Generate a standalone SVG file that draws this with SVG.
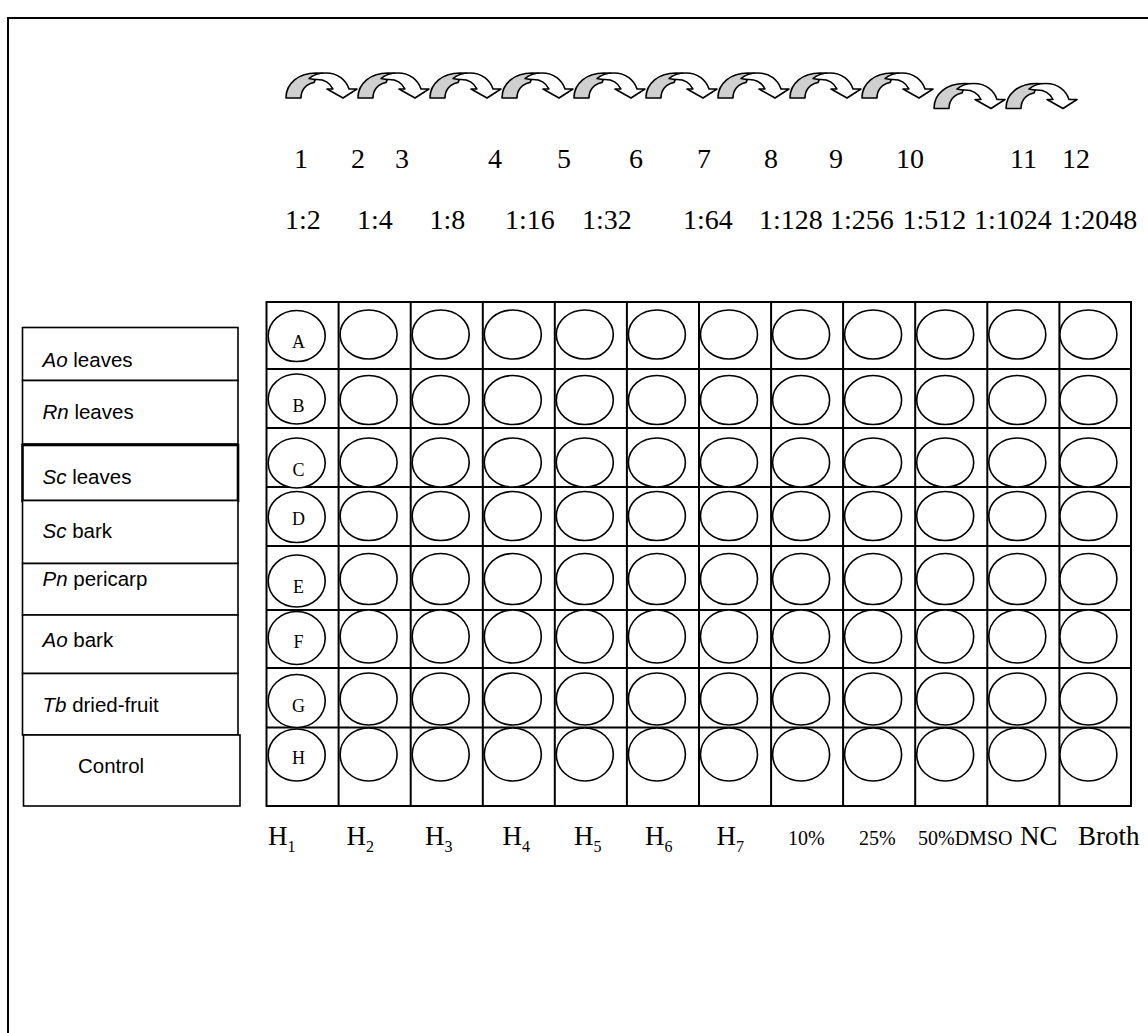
<svg xmlns="http://www.w3.org/2000/svg" width="1148" height="1033" viewBox="0 0 1148 1033">
<defs>
<style>
.frame{fill:none;stroke:#000;stroke-width:2}
.grid{fill:none;stroke:#000;stroke-width:2}
.well{fill:#fff;stroke:#000;stroke-width:1.6}
.box{fill:#fff;stroke:#000;stroke-width:1.6}
.lbl{font-family:"Liberation Sans",Arial,sans-serif;font-size:20.5px;fill:#000}
.ser{font-family:"Liberation Serif","Times New Roman",serif;fill:#000}
.num{font-size:28px}
.row{font-size:18px;text-anchor:middle}
.hl{font-size:27px}
.sm{font-size:20px}
.gray{fill:#cfcfcf;stroke:#000;stroke-width:1.6;stroke-linejoin:round}
.white{fill:#fff;stroke:#000;stroke-width:1.6;stroke-linejoin:round}
</style>
<g id="arr">
<path class="gray" d="M0,25 C0,10 13,0 30,0 L37,0.3 C32,3 29,6 28,9.5 C20,11 15,17 15,25 Z"/>
<path class="white" d="M23,5.5 C28,1 34,0 40,0 C52,0 60,7 63,16 L71,16 L57,25 L41,16 L47,16 C44,10 38,6.5 31,6.5 C28,6.5 25.5,6.2 23,5.5 Z"/>
</g>
</defs>
<rect width="1148" height="1033" fill="#fff"/>
<path class="frame" d="M8,1033 V18 H1148"/>

<g id="connectors">
<use href="#arr" x="286" y="73"/>
<use href="#arr" x="358" y="73"/>
<use href="#arr" x="430" y="73"/>
<use href="#arr" x="502" y="73"/>
<use href="#arr" x="574" y="73"/>
<use href="#arr" x="646" y="73"/>
<use href="#arr" x="718" y="73"/>
<use href="#arr" x="790" y="73"/>
<use href="#arr" x="862" y="73"/>
<use href="#arr" x="934" y="83.5"/>
<use href="#arr" x="1006" y="83.5"/>
</g>

<g id="col-numbers" class="ser num">
<text x="294" y="168">1</text>
<text x="351" y="168">2</text>
<text x="395" y="168">3</text>
<text x="488" y="168">4</text>
<text x="557" y="168">5</text>
<text x="629" y="168">6</text>
<text x="697" y="168">7</text>
<text x="764" y="168">8</text>
<text x="829" y="168">9</text>
<text x="896" y="168">10</text>
<text x="1010" y="168">11</text>
<text x="1062" y="168">12</text>
</g>

<g id="dilutions" class="ser num">
<text x="285" y="229">1:2</text>
<text x="357" y="229">1:4</text>
<text x="429.5" y="229">1:8</text>
<text x="505" y="229">1:16</text>
<text x="582" y="229">1:32</text>
<text x="683" y="229">1:64</text>
<text x="759" y="229">1:128</text>
<text x="830" y="229">1:256</text>
<text x="902.5" y="229">1:512</text>
<text x="974" y="229">1:1024</text>
<text x="1059.5" y="229">1:2048</text>
</g>

<g id="samples">
<g id="s-ao-leaves"><rect class="box" x="22.5" y="327.5" width="215.5" height="53"/><text class="lbl" x="42.5" y="367"><tspan font-style="italic">Ao</tspan> leaves</text></g>
<g id="s-rn-leaves"><rect class="box" x="22.5" y="380.5" width="215.5" height="63.5"/><text class="lbl" x="42.5" y="419"><tspan font-style="italic">Rn</tspan> leaves</text></g>
<g id="s-sc-leaves"><rect class="box" x="22.5" y="445" width="215.5" height="56" style="stroke-width:2.6"/><text class="lbl" x="42.5" y="484"><tspan font-style="italic">Sc</tspan> leaves</text></g>
<g id="s-sc-bark"><rect class="box" x="22.5" y="500.5" width="215.5" height="63"/><text class="lbl" x="42.5" y="538"><tspan font-style="italic">Sc</tspan> bark</text></g>
<g id="s-pn-pericarp"><rect class="box" x="22.5" y="563.5" width="215.5" height="51.5"/><text class="lbl" x="42.5" y="586"><tspan font-style="italic">Pn</tspan> pericarp</text></g>
<g id="s-ao-bark"><rect class="box" x="22.5" y="615" width="215.5" height="58.5"/><text class="lbl" x="42.5" y="646.5"><tspan font-style="italic">Ao</tspan> bark</text></g>
<g id="s-tb-fruit"><rect class="box" x="22.5" y="673.5" width="215.5" height="61.5"/><text class="lbl" x="42.5" y="712"><tspan font-style="italic">Tb</tspan> dried-fruit</text></g>
<g id="s-control"><rect class="box" x="23.5" y="735" width="216.5" height="71"/><text class="lbl" x="78" y="772.5">Control</text></g>
</g>

<g id="plate">
<rect class="grid" x="266.5" y="302" width="864.5" height="504"/>
<path class="grid" d="M338.6,302V806M410.7,302V806M482.8,302V806M554.8,302V806M626.9,302V806M699,302V806M771.1,302V806M843.1,302V806M915.2,302V806M987.3,302V806M1059.4,302V806M266.5,369H1131M266.5,428H1131M266.5,487H1131M266.5,546H1131M266.5,610H1131M266.5,668H1131M266.5,727.5H1131"/>
</g>

<g id="wells">
<g id="row-A"><ellipse class="well" cx="296.7" cy="336" rx="28.5" ry="25.5"/><ellipse class="well" cx="368.6" cy="334.5" rx="28.5" ry="24.5"/><ellipse class="well" cx="440.7" cy="334.5" rx="28.5" ry="24.5"/><ellipse class="well" cx="512.8" cy="334.5" rx="28.5" ry="24.5"/><ellipse class="well" cx="584.8" cy="334.5" rx="28.5" ry="24.5"/><ellipse class="well" cx="656.9" cy="334.5" rx="28.5" ry="24.5"/><ellipse class="well" cx="729" cy="334.5" rx="28.5" ry="24.5"/><ellipse class="well" cx="801.1" cy="334.5" rx="28.5" ry="24.5"/><ellipse class="well" cx="873.1" cy="334.5" rx="28.5" ry="24.5"/><ellipse class="well" cx="945.2" cy="334.5" rx="28.5" ry="24.5"/><ellipse class="well" cx="1017.3" cy="334.5" rx="28.5" ry="24.5"/><ellipse class="well" cx="1088.4" cy="334.5" rx="28.5" ry="24.5"/></g>
<g id="row-B"><ellipse class="well" cx="296.7" cy="399" rx="28.5" ry="25"/><ellipse class="well" cx="368.6" cy="400" rx="28.5" ry="24.5"/><ellipse class="well" cx="440.7" cy="400" rx="28.5" ry="24.5"/><ellipse class="well" cx="512.8" cy="400" rx="28.5" ry="24.5"/><ellipse class="well" cx="584.8" cy="400" rx="28.5" ry="24.5"/><ellipse class="well" cx="656.9" cy="400" rx="28.5" ry="24.5"/><ellipse class="well" cx="729" cy="400" rx="28.5" ry="24.5"/><ellipse class="well" cx="801.1" cy="400" rx="28.5" ry="24.5"/><ellipse class="well" cx="873.1" cy="400" rx="28.5" ry="24.5"/><ellipse class="well" cx="945.2" cy="400" rx="28.5" ry="24.5"/><ellipse class="well" cx="1017.3" cy="400" rx="28.5" ry="24.5"/><ellipse class="well" cx="1088.4" cy="400" rx="28.5" ry="24.5"/></g>
<g id="row-C"><ellipse class="well" cx="296.7" cy="463" rx="28.5" ry="25"/><ellipse class="well" cx="368.6" cy="462.5" rx="28.5" ry="24.5"/><ellipse class="well" cx="440.7" cy="462.5" rx="28.5" ry="24.5"/><ellipse class="well" cx="512.8" cy="462.5" rx="28.5" ry="24.5"/><ellipse class="well" cx="584.8" cy="462.5" rx="28.5" ry="24.5"/><ellipse class="well" cx="656.9" cy="462.5" rx="28.5" ry="24.5"/><ellipse class="well" cx="729" cy="462.5" rx="28.5" ry="24.5"/><ellipse class="well" cx="801.1" cy="462.5" rx="28.5" ry="24.5"/><ellipse class="well" cx="873.1" cy="462.5" rx="28.5" ry="24.5"/><ellipse class="well" cx="945.2" cy="462.5" rx="28.5" ry="24.5"/><ellipse class="well" cx="1017.3" cy="462.5" rx="28.5" ry="24.5"/><ellipse class="well" cx="1088.4" cy="462.5" rx="28.5" ry="24.5"/></g>
<g id="row-D"><ellipse class="well" cx="296.7" cy="517" rx="28.5" ry="25.5"/><ellipse class="well" cx="368.6" cy="516" rx="28.5" ry="24.5"/><ellipse class="well" cx="440.7" cy="516" rx="28.5" ry="24.5"/><ellipse class="well" cx="512.8" cy="516" rx="28.5" ry="24.5"/><ellipse class="well" cx="584.8" cy="516" rx="28.5" ry="24.5"/><ellipse class="well" cx="656.9" cy="516" rx="28.5" ry="24.5"/><ellipse class="well" cx="729" cy="516" rx="28.5" ry="24.5"/><ellipse class="well" cx="801.1" cy="516" rx="28.5" ry="24.5"/><ellipse class="well" cx="873.1" cy="516" rx="28.5" ry="24.5"/><ellipse class="well" cx="945.2" cy="516" rx="28.5" ry="24.5"/><ellipse class="well" cx="1017.3" cy="516" rx="28.5" ry="24.5"/><ellipse class="well" cx="1088.4" cy="516" rx="28.5" ry="24.5"/></g>
<g id="row-E"><ellipse class="well" cx="296.7" cy="581" rx="28.5" ry="26"/><ellipse class="well" cx="368.6" cy="579" rx="28.5" ry="25.5"/><ellipse class="well" cx="440.7" cy="579" rx="28.5" ry="25.5"/><ellipse class="well" cx="512.8" cy="579" rx="28.5" ry="25.5"/><ellipse class="well" cx="584.8" cy="579" rx="28.5" ry="25.5"/><ellipse class="well" cx="656.9" cy="579" rx="28.5" ry="25.5"/><ellipse class="well" cx="729" cy="579" rx="28.5" ry="25.5"/><ellipse class="well" cx="801.1" cy="579" rx="28.5" ry="25.5"/><ellipse class="well" cx="873.1" cy="579" rx="28.5" ry="25.5"/><ellipse class="well" cx="945.2" cy="579" rx="28.5" ry="25.5"/><ellipse class="well" cx="1017.3" cy="579" rx="28.5" ry="25.5"/><ellipse class="well" cx="1088.4" cy="579" rx="28.5" ry="25.5"/></g>
<g id="row-F"><ellipse class="well" cx="296.7" cy="638" rx="28.5" ry="26.5"/><ellipse class="well" cx="368.6" cy="636.5" rx="28.5" ry="26.5"/><ellipse class="well" cx="440.7" cy="636.5" rx="28.5" ry="26.5"/><ellipse class="well" cx="512.8" cy="636.5" rx="28.5" ry="26.5"/><ellipse class="well" cx="584.8" cy="636.5" rx="28.5" ry="26.5"/><ellipse class="well" cx="656.9" cy="636.5" rx="28.5" ry="26.5"/><ellipse class="well" cx="729" cy="636.5" rx="28.5" ry="26.5"/><ellipse class="well" cx="801.1" cy="636.5" rx="28.5" ry="26.5"/><ellipse class="well" cx="873.1" cy="636.5" rx="28.5" ry="26.5"/><ellipse class="well" cx="945.2" cy="636.5" rx="28.5" ry="26.5"/><ellipse class="well" cx="1017.3" cy="636.5" rx="28.5" ry="26.5"/><ellipse class="well" cx="1088.4" cy="636.5" rx="28.5" ry="26.5"/></g>
<g id="row-G"><ellipse class="well" cx="296.7" cy="701" rx="28.5" ry="26.5"/><ellipse class="well" cx="368.6" cy="699" rx="28.5" ry="26"/><ellipse class="well" cx="440.7" cy="699" rx="28.5" ry="26"/><ellipse class="well" cx="512.8" cy="699" rx="28.5" ry="26"/><ellipse class="well" cx="584.8" cy="699" rx="28.5" ry="26"/><ellipse class="well" cx="656.9" cy="699" rx="28.5" ry="26"/><ellipse class="well" cx="729" cy="699" rx="28.5" ry="26"/><ellipse class="well" cx="801.1" cy="699" rx="28.5" ry="26"/><ellipse class="well" cx="873.1" cy="699" rx="28.5" ry="26"/><ellipse class="well" cx="945.2" cy="699" rx="28.5" ry="26"/><ellipse class="well" cx="1017.3" cy="699" rx="28.5" ry="26"/><ellipse class="well" cx="1088.4" cy="699" rx="28.5" ry="26"/></g>
<g id="row-H"><ellipse class="well" cx="296.7" cy="755" rx="28.5" ry="26"/><ellipse class="well" cx="368.6" cy="754.5" rx="28.5" ry="26.5"/><ellipse class="well" cx="440.7" cy="754.5" rx="28.5" ry="26.5"/><ellipse class="well" cx="512.8" cy="754.5" rx="28.5" ry="26.5"/><ellipse class="well" cx="584.8" cy="754.5" rx="28.5" ry="26.5"/><ellipse class="well" cx="656.9" cy="754.5" rx="28.5" ry="26.5"/><ellipse class="well" cx="729" cy="754.5" rx="28.5" ry="26.5"/><ellipse class="well" cx="801.1" cy="754.5" rx="28.5" ry="26.5"/><ellipse class="well" cx="873.1" cy="754.5" rx="28.5" ry="26.5"/><ellipse class="well" cx="945.2" cy="754.5" rx="28.5" ry="26.5"/><ellipse class="well" cx="1017.3" cy="754.5" rx="28.5" ry="26.5"/><ellipse class="well" cx="1088.4" cy="754.5" rx="28.5" ry="26.5"/></g>
</g>

<g id="row-letters" class="ser row">
<text x="298.5" y="347.5">A</text>
<text x="298.5" y="412">B</text>
<text x="298.5" y="476">C</text>
<text x="298.5" y="525">D</text>
<text x="298.5" y="592.5">E</text>
<text x="298.5" y="647.5">F</text>
<text x="298.5" y="711.5">G</text>
<text x="298.5" y="763.5">H</text>
</g>

<g id="col-labels" class="ser">
<text class="hl" x="268" y="845">H<tspan font-size="16" dy="7">1</tspan></text>
<text class="hl" x="346.5" y="845">H<tspan font-size="16" dy="7">2</tspan></text>
<text class="hl" x="425" y="845">H<tspan font-size="16" dy="7">3</tspan></text>
<text class="hl" x="502.5" y="845">H<tspan font-size="16" dy="7">4</tspan></text>
<text class="hl" x="574" y="845">H<tspan font-size="16" dy="7">5</tspan></text>
<text class="hl" x="645" y="845">H<tspan font-size="16" dy="7">6</tspan></text>
<text class="hl" x="716.5" y="845">H<tspan font-size="16" dy="7">7</tspan></text>
<text class="sm" x="788" y="845">10%</text>
<text class="sm" x="859" y="845">25%</text>
<text class="sm" x="918" y="845">50%DMSO</text>
<text class="hl" x="1020" y="845">NC</text>
<text class="hl" x="1078" y="845">Broth</text>
</g>
</svg>
